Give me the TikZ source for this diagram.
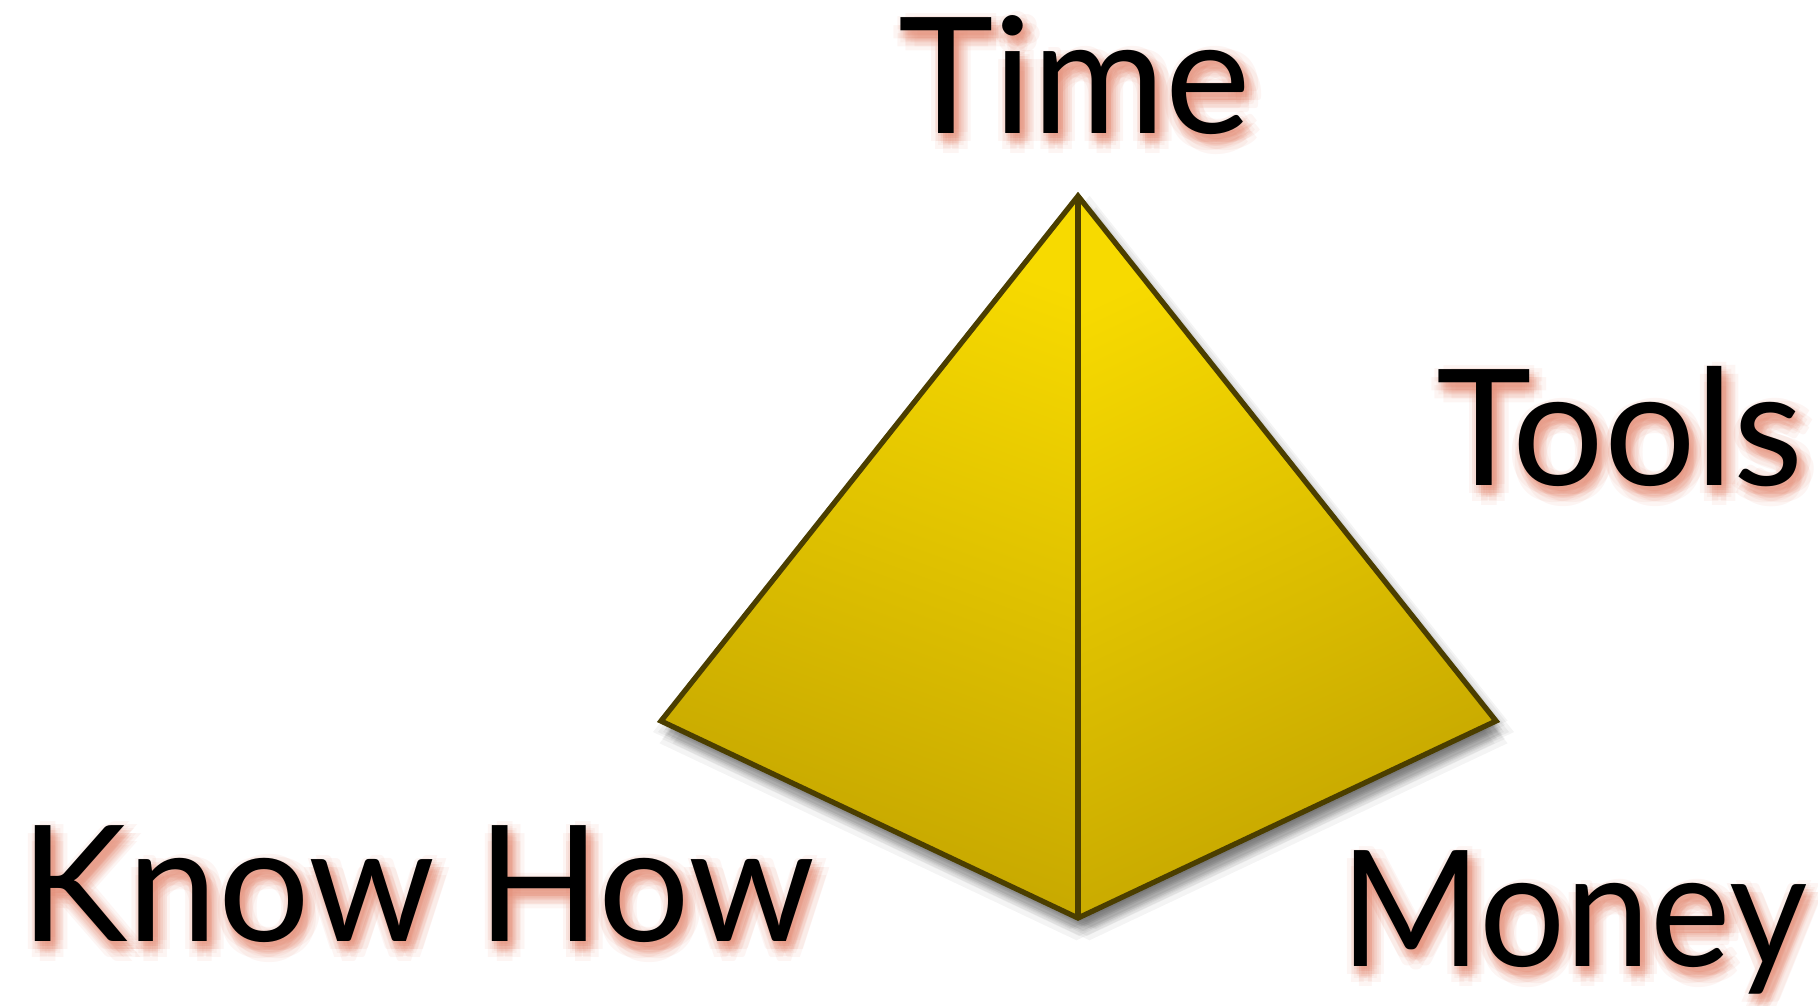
\documentclass[tikz,border=0pt]{standalone}
\usepackage{fontspec}
\setmainfont{Lato}
\usetikzlibrary{calc}
\definecolor{Gold}{HTML}{F7DA00}
\definecolor{DarkGold}{HTML}{C4A500}
\definecolor{EdgeBrown}{HTML}{4B3E00}
\definecolor{Glow}{HTML}{E07F66}
\tikzset{
  bigword/.style={font=\fontsize{46}{50}\selectfont, anchor=base, inner sep=0pt, text=black},
  glowword/.style={bigword, text=Glow, opacity=0.08},
  narrowword/.style={anchor=base west, xscale=0.94},
  edgeline/.style={draw=EdgeBrown, line width=1.5pt, line join=miter},
  castshadow/.style={fill=black, opacity=0.045},
}

\begin{document}
\begin{tikzpicture}[x=0.01cm, y=-0.01cm]
  \useasboundingbox (0,0) rectangle (1818,1005);

  % corners of the pyramid
  \coordinate (apex) at (1078,196);
  \coordinate (left) at (661,721);
  \coordinate (right) at (1496,721);
  \coordinate (bottom) at (1078,918);

  % soft shadow under the pyramid
  \foreach \a in {0,60,...,300}
    \foreach \r in {3,8,13}
      \fill[castshadow] ($(apex)+(\a:\r)+(5,11)$) -- ($(left)+(\a:\r)+(5,11)$) -- ($(bottom)+(\a:\r)+(5,11)$)
        -- ($(right)+(\a:\r)+(5,11)$) -- cycle;

  % faces
  \shade[top color=Gold, bottom color=DarkGold, shading angle=-20] (apex) -- (left) -- (bottom) -- cycle;
  \shade[top color=Gold, bottom color=DarkGold, shading angle=25] (apex) -- (right) -- (bottom) -- cycle;

  % edges
  \draw[edgeline] (apex) -- (left) -- (bottom) -- (right) -- cycle;
  \draw[edgeline] (apex) -- (bottom);

  % glow behind the words
  \foreach \a in {0,45,...,315}
    \foreach \r in {3,7,12} {
      \node[glowword] (gtime-\a-\r) at ($(1075,133)+(\a:\r)+(5,8)$) {Time};
      \node[glowword] (gtools-\a-\r) at ($(1620,485)+(\a:\r)+(5,8)$) {Tools};
      \node[glowword] (gknow-\a-\r) at ($(418,941)+(\a:\r)+(5,8)$) {Know How};
      \node[glowword, narrowword] (gmoney-\a-\r) at ($(1340,966)+(\a:\r)+(5,8)$) {Money};
    }

  % words
  \node[bigword] (time) at (1075,133) {Time};
  \node[bigword] (tools) at (1620,485) {Tools};
  \node[bigword] (knowhow) at (418,941) {Know How};
  \node[bigword, narrowword] (money) at (1340,966) {Money};
\end{tikzpicture}
\end{document}
